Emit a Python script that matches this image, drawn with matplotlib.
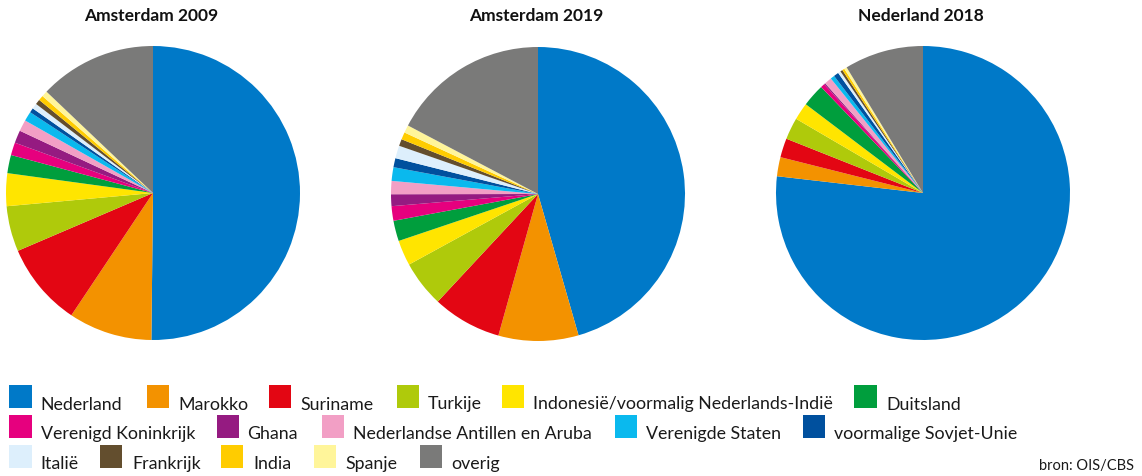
import matplotlib
matplotlib.use("Agg")
import matplotlib.pyplot as plt
from matplotlib.patches import Rectangle

categories = ["Nederland", "Marokko", "Suriname", "Turkije",
              "Indonesië/voormalig Nederlands-Indië", "Duitsland",
              "Verenigd Koninkrijk", "Ghana", "Nederlandse Antillen en Aruba",
              "Verenigde Staten", "voormalige Sovjet-Unie", "Italië",
              "Frankrijk", "India", "Spanje", "overig"]
colors = ["#0079C8", "#F39200", "#E30613", "#AFCA0B", "#FFE500", "#009E3D",
          "#E6007E", "#951B81", "#F29FC5", "#0AB9EE", "#00509E", "#DDEFFC",
          "#634E2E", "#FFCC00", "#FFF59A", "#7A7A79"]

titles = ["Amsterdam 2009", "Amsterdam 2019", "Nederland 2018"]
amsterdam_2009 = [50.2, 9.2, 9.2, 5.0, 3.6, 2.0, 1.4, 1.4, 1.25, 1.05, 0.5, 0.6, 0.55, 0.55, 0.65, 12.9]
amsterdam_2019 = [45.6, 8.8, 7.6, 5.1, 2.8, 2.25, 1.6, 1.3, 1.45, 1.5, 1.0, 1.4, 0.75, 0.8, 0.85, 17.3]
nederland_2018 = [76.9, 2.1, 2.1, 2.4, 1.9, 2.5, 0.45, 0.15, 0.8, 0.45, 0.55, 0.3, 0.25, 0.25, 0.3, 8.7]
series = [amsterdam_2009, amsterdam_2019, nederland_2018]

W, H = 1142, 477
fig = plt.figure(figsize=(W / 100, H / 100), dpi=100)

text_family = ["Lato", "DejaVu Sans"]

centers = [(153, 194), (538, 195), (923, 194)]
r = 147
for (cx, cy), vals, title in zip(centers, series, titles):
    ax = fig.add_axes([(cx - r) / W, (H - cy - r) / H, 2 * r / W, 2 * r / H])
    ax.pie(vals, colors=colors, startangle=90, counterclock=False, radius=1,
           wedgeprops=dict(linewidth=0))
    ax.set_xlim(-1, 1)
    ax.set_ylim(-1, 1)
    ax.set_aspect("equal")
    ax.axis("off")
    fig.text((cx - 2) / W, 1 - 21 / H, title, ha="center", va="baseline",
             fontsize=12.5, fontweight="bold", family=text_family, color="#111111")

# legend
sq_w, sq_h = 22.4, 23
rows = [
    [(0, 9.3, 40.7), (1, 147, 178), (2, 269, 300.7), (3, 397, 428), (4, 502, 533), (5, 854.4, 886)],
    [(6, 9.3, 40.7), (7, 216.7, 247.4), (8, 321.5, 352.6), (9, 615, 646), (10, 802.6, 834)],
    [(11, 9.3, 40.7), (12, 100, 132.7), (13, 221, 253), (14, 313.7, 345), (15, 419.6, 451)],
]
row_tops = [386, 416, 446]
for items, top in zip(rows, row_tops):
    for idx, sx, tx in items:
        fig.patches.append(Rectangle((sx / W, 1 - (top + sq_h) / H), sq_w / W, sq_h / H,
                                     transform=fig.transFigure, facecolor=colors[idx],
                                     edgecolor="none"))
        fig.text(tx / W, 1 - (top + sq_h + 0.5) / H, categories[idx], ha="left", va="baseline",
                 fontsize=12.8, family=text_family, color="#1a1a1a")

fig.text(1134 / W, 1 - 470 / H, "bron: OIS/CBS", ha="right", va="baseline",
         fontsize=10.5, family=text_family, color="#1a1a1a")

fig.savefig("out.png", dpi=100)
